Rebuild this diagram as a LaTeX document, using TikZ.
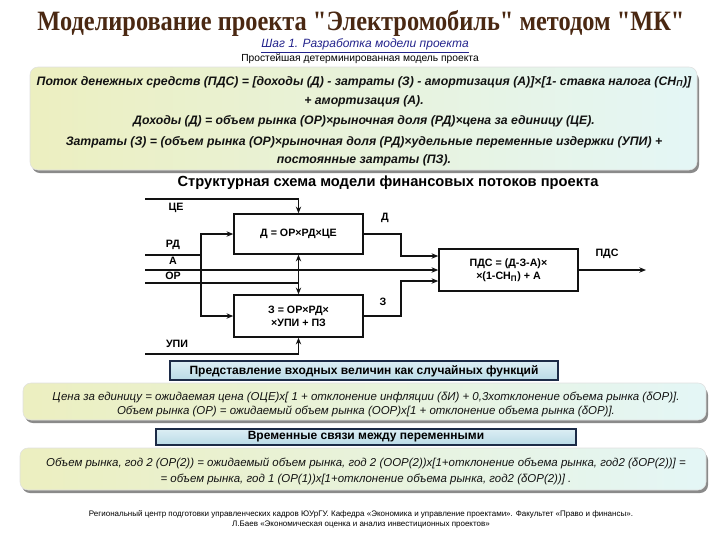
\documentclass[tikz,border=0pt]{standalone}
\usepackage{fontspec}
\setmainfont{Liberation Sans}
\newfontfamily\titlefont{Liberation Serif}
\usetikzlibrary{arrows.meta,positioning,calc}
\definecolor{mkbrown}{HTML}{4A2812}
\definecolor{mkblue}{HTML}{23238C}
\definecolor{mkink}{HTML}{121212}
\definecolor{mkleft}{HTML}{ECEFC0}
\definecolor{mkright}{HTML}{E4F6F6}
\definecolor{mkshadow}{HTML}{8A8A8A}
\definecolor{mkheadtop}{HTML}{DCEEF4}
\definecolor{mkhead}{HTML}{B9DAE6}
\definecolor{mknavy}{HTML}{1C2B47}

\begin{document}
\begin{tikzpicture}[x=0.75pt,y=-0.75pt,
    blk/.style={draw=mkink,line width=1.1pt,minimum width=96.8pt,align=center,inner sep=1pt,font=\fontsize{8}{10}\selectfont\bfseries},
    wire/.style={draw=mkink,line width=1.15pt},
    arr/.style={wire,-{Stealth[length=5pt,width=4pt]}},
    lbl/.style={inner sep=0pt,font=\fontsize{8}{9}\selectfont\bfseries},
    frm/.style={inner sep=0pt,text=mkink,font=\fontsize{9.2}{11}\selectfont\bfseries\itshape},
    rnd/.style={inner sep=0pt,text=mkink,font=\fontsize{8.6}{10}\selectfont\itshape},
    hdr/.style={inner sep=0pt,font=\fontsize{9}{10}\selectfont\bfseries},
    headbox/.style={draw=mknavy,line width=0.9pt,top color=mkheadtop,bottom color=mkhead},
    panel/.style={left color=mkleft,right color=mkright,draw=black!12,rounded corners=6pt}]
  \useasboundingbox (0,0) rectangle (720,540);
  \fill[white] (0,0) rectangle (720,540);

  % header
  \node[inner sep=0pt,text=mkbrown,font=\fontsize{21}{24}\selectfont\titlefont\bfseries] (title) at (361,23) {\scalebox{0.87}[1]{Моделирование проекта "Электромобиль" методом "МК"}};
  \node[inner sep=0pt,text=mkblue,font=\fontsize{9}{10}\selectfont\itshape] (step) at (365,46) {\underline{Шаг 1. Разработка модели проекта}};
  \node[inner sep=0pt,font=\fontsize{7.7}{9}\selectfont] (subt) at (360,59) {Простейшая детерминированная модель проекта};

  % deterministic model
  \fill[mkshadow,rounded corners=6pt] (32,72) rectangle (699,173);
  \path[panel] (30,67) rectangle (697,170);
  \node[frm] (cf1) at (364,82) {Поток денежных средств (ПДС) = [доходы (Д) - затраты (З) - амортизация (А)]×[1- ставка налога (СН\textsubscript{П})]};
  \node[frm] (cf2) at (364,101) {+ амортизация (А).};
  \node[frm] (inc) at (364,121) {Доходы (Д) = объем рынка (ОР)×рыночная доля (РД)×цена за единицу (ЦЕ).};
  \node[frm] (cst1) at (364,142) {Затраты (З) = (объем рынка (ОР)×рыночная доля (РД)×удельные переменные издержки (УПИ) +};
  \node[frm] (cst2) at (364,160) {постоянные затраты (ПЗ).};

  % block scheme
  \node[inner sep=0pt,font=\fontsize{11}{12}\selectfont\bfseries] (schema) at (388,183) {Структурная схема модели финансовых потоков проекта};
  \node[blk,minimum height=30pt] (boxD) at (298.5,234) {Д = ОР×РД×ЦЕ};
  \node[blk,minimum height=31.5pt] (boxZ) at (298.5,316) {З = ОР×РД×\\×УПИ + ПЗ};
  \node[blk,minimum width=104.3pt,minimum height=31.5pt] (boxP) at (508.5,270) {ПДС = (Д-З-А)×\\×(1-СН\textsubscript{П}) + А};

  \node[lbl] (lCE) at (176,208) {ЦЕ};
  \node[lbl] (lRD) at (173,245) {РД};
  \node[lbl] (lA) at (173,261) {А};
  \node[lbl] (lOR) at (173,276) {ОР};
  \node[lbl] (lUPI) at (177,344) {УПИ};
  \node[lbl] (lD) at (385,218) {Д};
  \node[lbl] (lZ) at (383,302) {З};
  \node[lbl] (lP) at (607,254) {ПДС};

  \coordinate (inCE) at (145,199);
  \coordinate (inRD) at (145,255);
  \coordinate (inA) at (145,270);
  \coordinate (inOR) at (145,283);
  \coordinate (inUPI) at (145,354);
  \coordinate (bus) at (201,255);
  \coordinate (kD) at (401,256);
  \coordinate (kZ) at (401,281);
  \coordinate (outP) at (646,270);

  \draw[arr] (inCE) -| (boxD.north);
  \draw[wire] (inRD) -- (bus);
  \draw[arr] (bus) |- (boxD.west);
  \draw[arr] (bus) |- (boxZ.west);
  \draw[arr] (inA) -- (boxP.west);
  \draw[wire] (inOR) -- (inOR -| boxD.south) coordinate (jOR);
  \draw[arr] (jOR) -- (boxD.south);
  \draw[arr] (jOR) -- (boxZ.north);
  \draw[arr] (inUPI) -| (boxZ.south);
  \draw[arr] (boxD.east) -| (kD) -- (kD -| boxP.west);
  \draw[arr] (boxZ.east) -| (kZ) -- (kZ -| boxP.west);
  \draw[arr] (boxP.east) -- (outP);

  % random inputs
  \draw[headbox] (170,361) rectangle (558,380);
  \node[hdr] (hRnd) at (364,371) {Представление входных величин как случайных функций};
  \fill[mkshadow,rounded corners=6pt] (25,387) rectangle (708,423);
  \path[panel] (23,383) rectangle (706,420);
  \node[rnd] (rnd1) at (366,397) {Цена за единицу = ожидаемая цена (ОЦЕ)х[ 1 + отклонение инфляции (δИ) + 0,3хотклонение объема рынка (δОР)].};
  \node[rnd] (rnd2) at (366,411) {Объем рынка (ОР) = ожидаемый объем рынка (ООР)х[1 + отклонение объема рынка (δОР)].};

  % time links
  \draw[headbox] (156,429) rectangle (576,445);
  \node[hdr] (hTime) at (366,437) {Временные связи между переменными};
  \fill[mkshadow,rounded corners=6pt] (22,452) rectangle (708,493);
  \path[panel] (20,448) rectangle (706,490);
  \node[rnd] (tm1) at (366,463) {Объем рынка, год 2  (ОР(2)) = ожидаемый объем рынка, год 2 (ООР(2))х[1+отклонение объема рынка, год2 (δОР(2))] =};
  \node[rnd] (tm2) at (366,479) {= объем рынка, год 1 (ОР(1))х[1+отклонение объема рынка, год2 (δОР(2))] .};

  % footer
  \node[inner sep=0pt,font=\fontsize{6}{7}\selectfont] (foot1) at (361,514) {Региональный центр подготовки управленческих кадров ЮУрГУ. Кафедра «Экономика и управление проектами». Факультет «Право и финансы».};
  \node[inner sep=0pt,font=\fontsize{6}{7}\selectfont] (foot2) at (361,525) {Л.Баев «Экономическая оценка и анализ инвестиционных проектов»};
\end{tikzpicture}
\end{document}
